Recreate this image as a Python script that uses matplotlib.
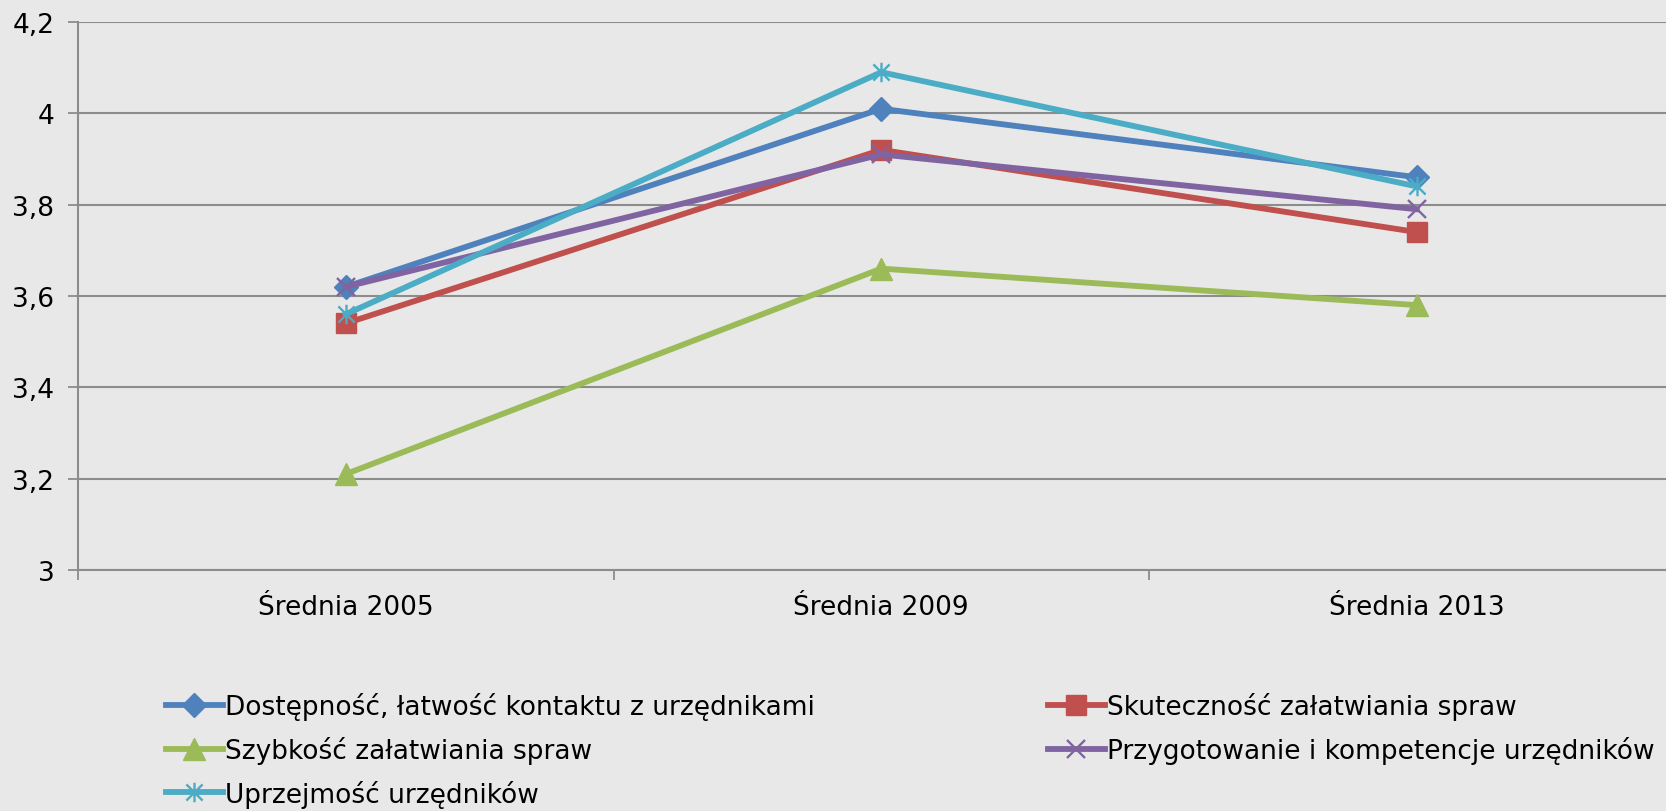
import matplotlib
matplotlib.use("Agg")
import matplotlib.pyplot as plt
from matplotlib.path import Path
from matplotlib.ticker import FuncFormatter, FixedLocator

kategorie = ["Średnia 2005", "Średnia 2009", "Średnia 2013"]

dostepnosc = [3.62, 4.01, 3.86]
skutecznosc = [3.54, 3.92, 3.74]
szybkosc = [3.21, 3.66, 3.58]
przygotowanie = [3.62, 3.91, 3.79]
uprzejmosc = [3.56, 4.09, 3.84]

etykiety = ["Dostępność, łatwość kontaktu z urzędnikami",
            "Skuteczność załatwiania spraw",
            "Szybkość załatwiania spraw",
            "Przygotowanie i kompetencje urzędników",
            "Uprzejmość urzędników"]

# gwiazdka jak w Excelu: x + pionowa kreska
gwiazdka = Path([(-1, -1), (1, 1), (-1, 1), (1, -1), (0, -1.2), (0, 1.2)],
                [Path.MOVETO, Path.LINETO, Path.MOVETO, Path.LINETO, Path.MOVETO, Path.LINETO])

tlo = "#E8E8E8"
siatka = "#8C8C8C"
plt.rcParams["font.family"] = ["DejaVu Sans"]

fig = plt.figure(figsize=(16.66, 8.12), dpi=100, facecolor=tlo)
ax = fig.add_axes([78 / 1666, 1 - 571 / 812, 1606.5 / 1666, (571 - 23) / 812])
ax.set_facecolor(tlo)

x = range(len(kategorie))
serie = [
    (dostepnosc, "#4F81BD", dict(marker="D", markersize=12.5)),
    (skutecznosc, "#C0504D", dict(marker="s", markersize=14)),
    (szybkosc, "#9BBB59", dict(marker="^", markersize=16)),
    (przygotowanie, "#8064A2", dict(marker="x", markersize=13, markeredgewidth=1.7)),
    (uprzejmosc, "#4BACC6", dict(marker=gwiazdka, markersize=14, markeredgewidth=1.7,
                                 markerfacecolor="none")),
]
linie = []
for (wart, kol, mk), lab in zip(serie, etykiety):
    l, = ax.plot(x, wart, color=kol, lw=4.2, label=lab, markeredgecolor=kol,
                 solid_joinstyle="round", **mk)
    linie.append(l)

ax.set_xlim(-0.5, 2.5)
ax.set_ylim(3, 4.2)
ax.set_yticks([3, 3.2, 3.4, 3.6, 3.8, 4, 4.2])
ax.yaxis.set_major_formatter(FuncFormatter(lambda v, p: f"{v:g}".replace(".", ",")))
ax.yaxis.grid(True, color=siatka, lw=1.5)
ax.set_axisbelow(True)

ax.set_xticks(list(x))
ax.set_xticklabels(kategorie)
ax.xaxis.set_minor_locator(FixedLocator([-0.5, 0.5, 1.5, 2.5]))
ax.tick_params(axis="x", which="major", length=0, pad=17, labelsize=19)
ax.tick_params(axis="x", which="minor", length=7, width=1.3, color=siatka, direction="out")
ax.tick_params(axis="y", length=7, width=1.3, color=siatka, labelsize=19, pad=10)

for s in ["top", "right"]:
    ax.spines[s].set_visible(False)
for s in ["left", "bottom"]:
    ax.spines[s].set_color(siatka)
    ax.spines[s].set_linewidth(1.5)

wsp = dict(frameon=False, fontsize=19, handlelength=2.15, handletextpad=0.1,
           labelspacing=0.6, borderpad=0, borderaxespad=0, loc="upper left")
fig.legend([linie[0], linie[2], linie[4]], [etykiety[0], etykiety[2], etykiety[4]],
           bbox_to_anchor=(166 / 1666, 1 - 693 / 812), **wsp)
fig.legend([linie[1], linie[3]], [etykiety[1], etykiety[3]],
           bbox_to_anchor=(1048 / 1666, 1 - 693 / 812), **wsp)

fig.savefig("out.png", dpi=100, facecolor=tlo)
